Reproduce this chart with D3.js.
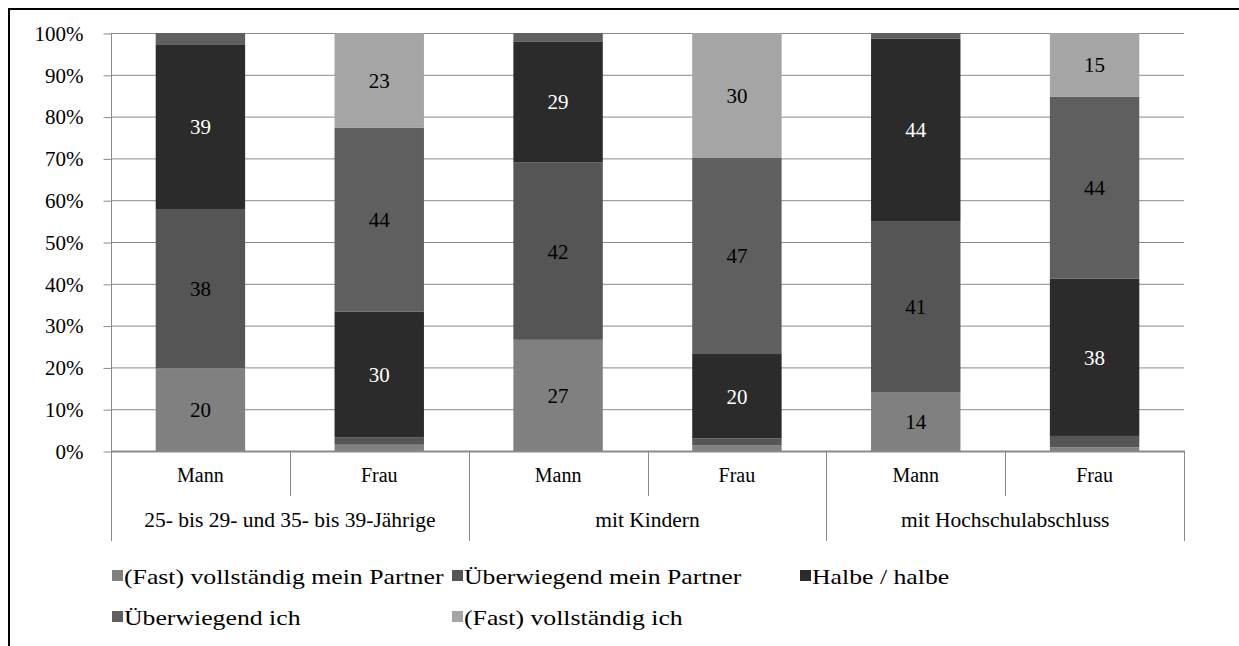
<!DOCTYPE html>
<html>
<head>
<meta charset="utf-8">
<script src="https://cdn.jsdelivr.net/npm/d3@7"></script>
<style>
  body { margin: 0; background: #fff; }
  svg { display: block; }
</style>
</head>
<body>
<div id="chart"></div>
<script>
const categories = ["Mann", "Frau", "Mann", "Frau", "Mann", "Frau"]
const groups = ["25- bis 29- und 35- bis 39-Jährige", "mit Kindern", "mit Hochschulabschluss"]
const seriesNames = ["(Fast) vollständig mein Partner", "Überwiegend mein Partner", "Halbe / halbe", "Überwiegend ich", "(Fast) vollständig ich"]
const fastPartner = [19.8, 1.5, 26.6, 1.4, 14.1, 0.9]
const ueberwPartner = [38.1, 1.8, 42.4, 1.6, 40.9, 2.7]
const halbe = [39.4, 30.0, 29.0, 20.2, 43.6, 37.6]
const ueberwIch = [2.7, 44.0, 2.0, 46.9, 1.4, 43.6]
const fastIch = [0, 22.7, 0, 29.9, 0, 15.2]
const yTicks = [0, 10, 20, 30, 40, 50, 60, 70, 80, 90, 100]

const colors = ["#808080", "#555555", "#2b2b2b", "#5f5f5f", "#a5a5a5"]
const labelColors = ["#000", "#000", "#fff", "#000", "#000"]

const width = 1239, height = 646
const plotLeft = 111, plotRight = 1184, plotTop = 33, plotBottom = 451
const font = "'Liberation Serif', 'Times New Roman', serif"
const fontSize = 21

const rows = categories.map((c, i) => ({
    idx: i,
    s0: fastPartner[i], s1: ueberwPartner[i], s2: halbe[i], s3: ueberwIch[i], s4: fastIch[i]
}))
const keys = ["s0", "s1", "s2", "s3", "s4"]
const stacked = d3.stack().keys(keys)(rows)

const svg = d3.select("#chart").append("svg")
    .attr("width", width).attr("height", height)
    .style("font-family", font)

// outer frame
svg.append("path")
    .attr("d", `M9,${height + 5}V9H${width + 5}`)
    .attr("fill", "none").attr("stroke", "#000").attr("stroke-width", 2)

const x = d3.scaleBand().domain(d3.range(categories.length)).range([plotLeft, plotRight]).paddingInner(0.5).paddingOuter(0.25)
const y = d3.scaleLinear().domain([0, 100]).range([plotBottom, plotTop])
const step = (plotRight - plotLeft) / categories.length
const axisColor = "#8a8a8a"

// gridlines
svg.append("g").selectAll("line")
    .data(yTicks.filter(t => t > 0))
    .enter().append("line")
    .attr("x1", plotLeft).attr("x2", plotRight)
    .attr("y1", d => y(d) + 0.5).attr("y2", d => y(d) + 0.5)
    .attr("stroke", axisColor).attr("stroke-width", 1)

// y axis
const yAxis = d3.axisLeft(y).tickValues(yTicks).tickFormat(d => d + "%").tickSize(8).tickPadding(20)
const gy = svg.append("g").attr("transform", `translate(${plotLeft + 0.5},0.5)`).call(yAxis)
gy.select(".domain").attr("stroke", axisColor).attr("d", `M0,${plotTop}V${plotBottom}`)
gy.selectAll(".tick line").attr("stroke", axisColor)
gy.selectAll(".tick text")
    .attr("fill", "#000")
    .style("font-family", font).style("font-size", fontSize + "px")

// bars
const layer = svg.append("g").selectAll("g")
    .data(stacked)
    .enter().append("g")
    .attr("fill", (d, i) => colors[i])

layer.selectAll("rect")
    .data(d => d)
    .enter().append("rect")
    .attr("x", d => x(d.data.idx))
    .attr("width", x.bandwidth())
    .attr("y", d => y(d[1]))
    .attr("height", d => y(d[0]) - y(d[1]))

// value labels
stacked.forEach((s, si) => {
    svg.append("g").selectAll("text")
        .data(s.filter(d => d[1] - d[0] >= 5))
        .enter().append("text")
        .attr("x", d => x(d.data.idx) + x.bandwidth() / 2)
        .attr("y", d => y((d[0] + d[1]) / 2))
        .attr("dy", "0.35em")
        .attr("text-anchor", "middle")
        .style("font-family", font).style("font-size", fontSize + "px")
        .attr("fill", labelColors[si])
        .text(d => Math.round(d[1] - d[0]))
})

// x axis with two label rows
svg.append("line")
    .attr("x1", plotLeft).attr("x2", plotRight + 1)
    .attr("y1", plotBottom + 0.5).attr("y2", plotBottom + 0.5)
    .attr("stroke", axisColor).attr("stroke-width", 2)

d3.range(categories.length + 1).forEach(k => {
    const xx = Math.round(plotLeft + k * step) + 0.5
    const groupEdge = k % 2 === 0
    svg.append("line")
        .attr("x1", xx).attr("x2", xx)
        .attr("y1", plotBottom).attr("y2", groupEdge ? 541 : 496)
        .attr("stroke", axisColor).attr("stroke-width", 1)
})

svg.append("g").selectAll("text")
    .data(categories)
    .enter().append("text")
    .attr("x", (d, i) => plotLeft + (i + 0.5) * step)
    .attr("y", 482)
    .attr("text-anchor", "middle")
    .style("font-family", font).style("font-size", "20px")
    .text(d => d)

svg.append("g").selectAll("text")
    .data(groups)
    .enter().append("text")
    .attr("x", (d, i) => plotLeft + (2 * i + 1) * step)
    .attr("y", 527)
    .attr("text-anchor", "middle")
    .style("font-family", font).style("font-size", "21.5px")
    .text(d => d)

// legend (text in the original is drawn a little wider than it is tall)
const legendPos = [[112, 576], [452, 576], [800, 576], [112, 617], [452, 617]]
const legend = svg.append("g").selectAll("g")
    .data(seriesNames)
    .enter().append("g")
    .attr("transform", (d, i) => `translate(${legendPos[i][0]},${legendPos[i][1]})`)

legend.append("rect")
    .attr("x", 0).attr("y", -6).attr("width", 11).attr("height", 11)
    .attr("fill", (d, i) => colors[i])

legend.append("text")
    .attr("transform", "translate(12,0) scale(1.17,1)")
    .attr("dy", "0.35em")
    .style("font-family", font).style("font-size", "22px")
    .text(d => d)
</script>
</body>
</html>
